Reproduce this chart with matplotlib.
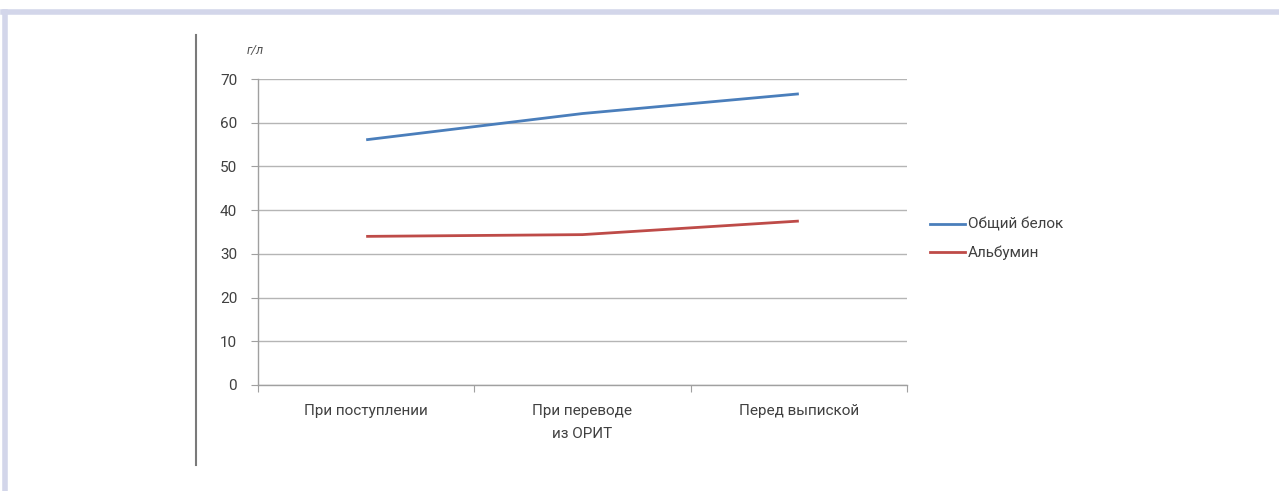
import matplotlib
matplotlib.use("Agg")
import matplotlib.pyplot as plt
from matplotlib.lines import Line2D

categories = ["При поступлении", "При переводе\nиз ОРИТ", "Перед выпиской"]
total_protein = [56.1, 62.1, 66.6]
albumin = [34.0, 34.4, 37.5]
series_names = ["Общий белок", "Альбумин"]
y_ticks = [0, 10, 20, 30, 40, 50, 60, 70]
unit_label = "г/л"

plt.rcParams['font.family'] = ['Roboto', 'DejaVu Sans']

W, H = 1279, 491
fig = plt.figure(figsize=(W / 100, H / 100), dpi=100)
fig.patch.set_facecolor("white")

# outer decorative frame
frame_color = "#d3d6ea"
fig.add_artist(Line2D([3 / W, 1.0], [1 - 12 / H, 1 - 12 / H], color=frame_color, lw=4, transform=fig.transFigure))
fig.add_artist(Line2D([5 / W, 5 / W], [0, 1 - 12 / H], color=frame_color, lw=4, transform=fig.transFigure))
# vertical gray rule
fig.add_artist(Line2D([196 / W, 196 / W], [1 - 465 / H, 1 - 35 / H], color="#7a7a7a", lw=1.5, transform=fig.transFigure))

left, right = 258 / W, 907 / W
bottom, top = 1 - 385 / H, 1 - 79 / H
ax = fig.add_axes([left, bottom, right - left, top - bottom])

x = [0.5, 1.5, 2.5]
ax.plot(x, total_protein, color="#4a7ebb", lw=2.0, solid_capstyle="butt", zorder=3)
ax.plot(x, albumin, color="#be4b48", lw=2.0, solid_capstyle="butt", zorder=3)

ax.set_xlim(0, 3)
ax.set_ylim(0, 70)
ax.set_yticks(y_ticks)
ax.set_yticklabels([str(v) for v in y_ticks], fontsize=11, color="#404040")
ax.yaxis.grid(True, color="#b5b5b5", lw=1.0)
ax.set_axisbelow(True)

ax.set_xticks([0, 1, 2, 3])
ax.set_xticklabels([])
ax.set_xticks(x, minor=True)
ax.set_xticklabels(categories, minor=True, fontsize=11, color="#404040", linespacing=1.75)
ax.tick_params(axis="x", which="minor", length=0, pad=14)
ax.tick_params(axis="x", which="major", length=5, color="#a0a0a0", direction="out")
ax.tick_params(axis="y", length=5, color="#a0a0a0", pad=10)

for s in ["top", "right"]:
    ax.spines[s].set_visible(False)
for s in ["left", "bottom"]:
    ax.spines[s].set_color("#a0a0a0")
    ax.spines[s].set_linewidth(1.0)

fig.text(255 / W, 1 - 50 / H, unit_label, fontsize=9, style="italic", color="#505050", ha="center", va="center")

# legend
handles = [Line2D([], [], color="#4a7ebb", lw=2.0), Line2D([], [], color="#be4b48", lw=2.0)]
fig.legend(handles, series_names, loc="center left", bbox_to_anchor=(930 / W, 1 - 239 / H),
           frameon=False, fontsize=11, handlelength=2.3, handletextpad=0.2, labelspacing=0.9,
           borderpad=0, borderaxespad=0, labelcolor="#404040")

fig.savefig("out.png", dpi=100, facecolor="white")
